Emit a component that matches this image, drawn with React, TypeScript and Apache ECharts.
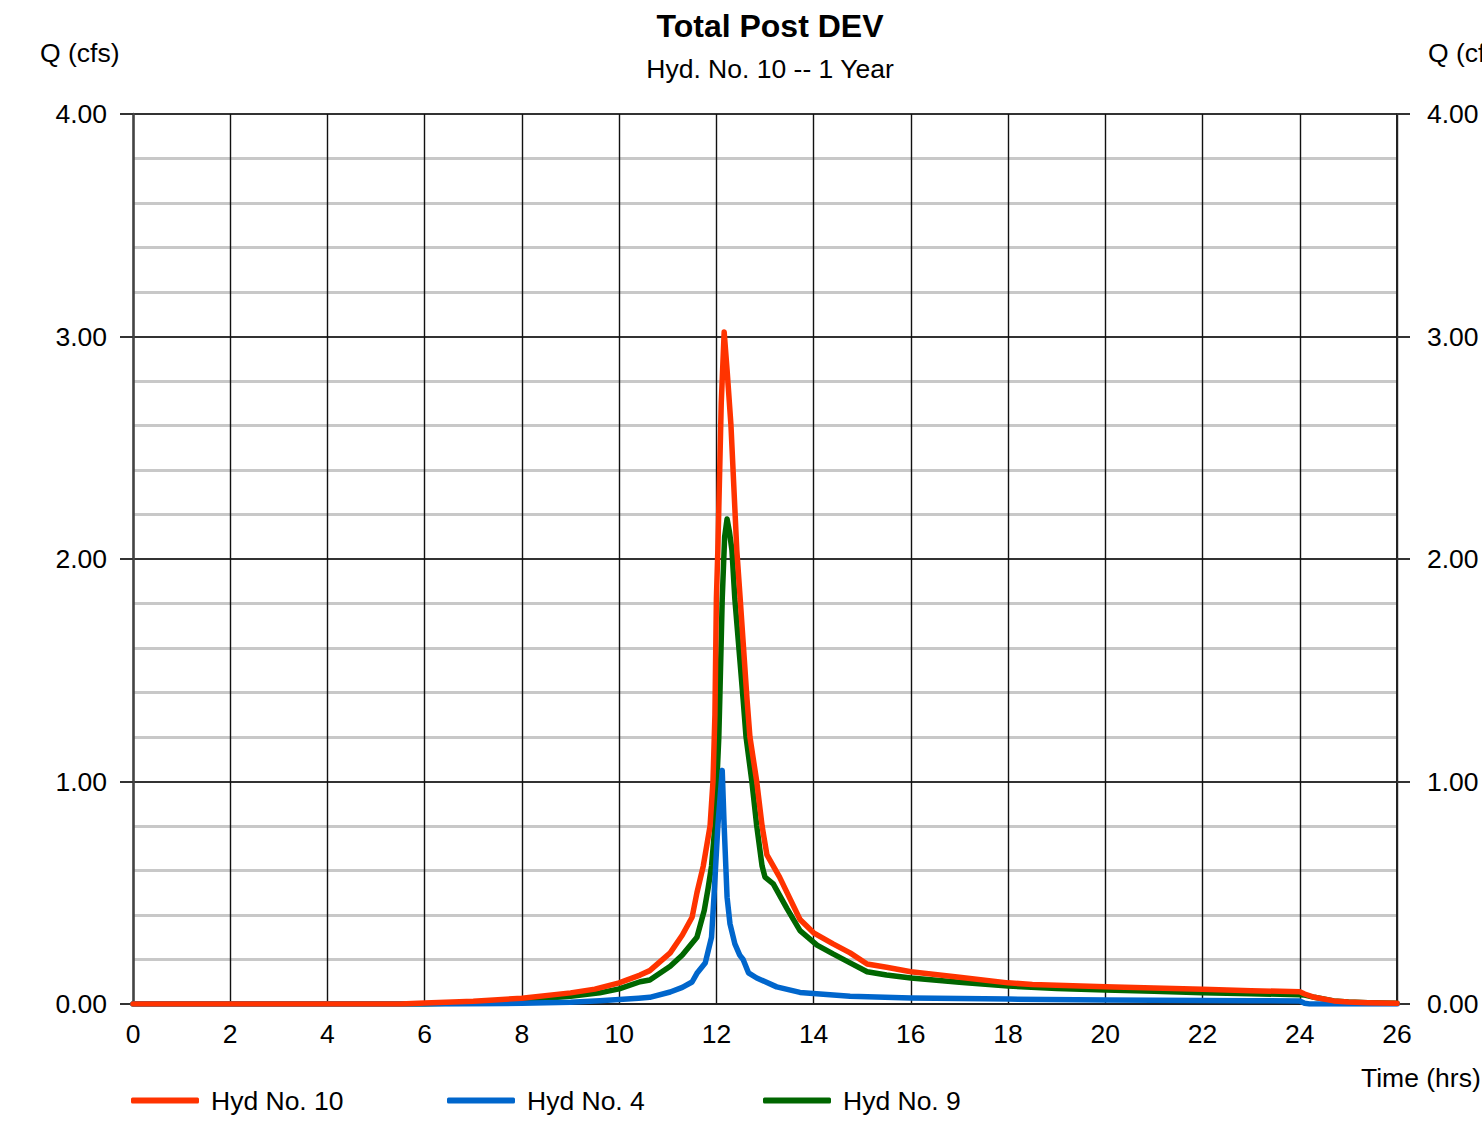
import React, { useEffect, useRef } from "react";
import * as echarts from "echarts";

const chartTitle = "Total Post DEV";
const chartSubtitle = "Hyd. No. 10 -- 1 Year";
const yAxisName = "Q (cfs)";
const xAxisName = "Time (hrs)";

const seriesNames = ["Hyd No. 10", "Hyd No. 4", "Hyd No. 9"];
const seriesColors = ["#ff3300", "#0066cc", "#006600"];

// Hyd No. 10 (total)
const hyd10Time = [0, 5.5, 6, 7, 8, 9, 9.5, 10, 10.43, 10.63, 11.05, 11.3, 11.5, 11.6, 11.73, 11.87, 11.93, 11.97, 12.0, 12.03, 12.1, 12.16, 12.22, 12.3, 12.42, 12.49, 12.63, 12.69, 12.83, 12.94, 13.04, 13.3, 13.72, 14.0, 14.4, 14.75, 15.1, 15.5, 16, 17, 18, 18.5, 19, 20, 21, 22, 23, 24, 24.1, 24.3, 24.7, 25.0, 25.4, 26];
const hyd10Q = [0, 0, 0.005, 0.012, 0.026, 0.05, 0.067, 0.095, 0.13, 0.15, 0.23, 0.31, 0.39, 0.5, 0.62, 0.8, 1.0, 1.3, 1.82, 2.04, 2.7, 3.02, 2.85, 2.6, 2.04, 1.82, 1.37, 1.2, 1.0, 0.8, 0.67, 0.57, 0.38, 0.32, 0.27, 0.23, 0.18, 0.165, 0.145, 0.12, 0.095, 0.088, 0.084, 0.078, 0.072, 0.066, 0.06, 0.055, 0.045, 0.03, 0.014, 0.009, 0.006, 0.003];

// Hyd No. 4
const hyd4Time = [0, 6.5, 7.3, 8, 9, 9.6, 10, 10.4, 10.63, 11.05, 11.3, 11.5, 11.6, 11.77, 11.9, 11.95, 12.03, 12.12, 12.16, 12.22, 12.28, 12.38, 12.48, 12.55, 12.66, 12.83, 13.24, 13.72, 14.75, 16, 18, 20, 22, 23, 24, 24.1, 24.2, 26];
const hyd4Q = [0, 0, 0.001, 0.003, 0.008, 0.015, 0.02, 0.026, 0.03, 0.054, 0.075, 0.099, 0.138, 0.184, 0.3, 0.48, 0.8, 1.05, 0.8, 0.48, 0.36, 0.27, 0.22, 0.2, 0.14, 0.117, 0.077, 0.052, 0.035, 0.027, 0.022, 0.018, 0.016, 0.015, 0.013, 0.003, 0, 0];

// Hyd No. 9
const hyd9Time = [0, 6, 7, 8, 9, 9.6, 10, 10.43, 10.63, 11.05, 11.3, 11.6, 11.75, 11.83, 11.9, 11.97, 12.01, 12.05, 12.07, 12.12, 12.17, 12.22, 12.27, 12.32, 12.38, 12.55, 12.61, 12.73, 12.83, 12.94, 13.0, 13.17, 13.45, 13.72, 14.07, 14.4, 14.75, 15.1, 15.5, 16, 17, 18, 19, 20, 21, 22, 23, 24, 24.1, 24.3, 24.7, 25.0, 25.4, 26];
const hyd9Q = [0, 0, 0.008, 0.018, 0.035, 0.05, 0.068, 0.1, 0.108, 0.17, 0.22, 0.3, 0.42, 0.52, 0.62, 0.8, 1.0, 1.2, 1.37, 1.82, 2.1, 2.18, 2.12, 2.04, 1.82, 1.37, 1.2, 1.0, 0.8, 0.62, 0.57, 0.54, 0.43, 0.33, 0.265, 0.225, 0.185, 0.145, 0.13, 0.117, 0.098, 0.081, 0.07, 0.063, 0.057, 0.051, 0.046, 0.042, 0.04, 0.03, 0.014, 0.009, 0.006, 0.003];

const xMin = 0;
const xMax = 26;
const xInterval = 2;
const yMin = 0;
const yMax = 4;
const yInterval = 1;

const FONT = "'Liberation Sans', Arial, Helvetica, sans-serif";
const FS = 26.5;

function pairs(t: number[], q: number[]) {
  return t.map((x, i) => [x, q[i]]);
}

export default function App() {
  const ref = useRef<HTMLDivElement>(null);

  useEffect(() => {
    if (!ref.current) return;
    const chart = echarts.init(ref.current, null, { renderer: "svg" });

    const yAxisCommon = {
      type: "value",
      min: yMin,
      max: yMax,
      interval: yInterval,
      axisTick: { show: true, length: 13, lineStyle: { color: "#333", width: 2 } },
      minorTick: { show: false, splitNumber: 5 },
    };

    const legendCommon = {
      orient: "horizontal",
      top: 1087,
      padding: 0,
      itemWidth: 68,
      itemHeight: 6,
      icon: "roundRect",
      textStyle: { fontFamily: FONT, fontSize: FS, color: "#000", padding: [0, 0, 0, 7] },
    };

    const option: any = {
      animation: false,
      backgroundColor: "#ffffff",
      title: {
        text: chartTitle,
        subtext: chartSubtitle,
        left: 765,
        top: 5,
        textAlign: "center",
        itemGap: 13,
        textStyle: { fontFamily: FONT, fontSize: 32, fontWeight: "bold", color: "#000" },
        subtextStyle: { fontFamily: FONT, fontSize: FS, color: "#000" },
      },
      grid: { left: 133, right: 85, top: 114, bottom: 117, containLabel: false },
      legend: [
        { ...legendCommon, left: 131, data: [seriesNames[0]] },
        { ...legendCommon, left: 447, data: [seriesNames[1]] },
        { ...legendCommon, left: 763, data: [seriesNames[2]] },
      ],
      xAxis: {
        type: "value",
        min: xMin,
        max: xMax,
        interval: xInterval,
        axisLine: { show: true, lineStyle: { color: "#222", width: 2 } },
        axisTick: { show: false },
        axisLabel: { fontFamily: FONT, fontSize: FS, color: "#000", margin: 16 },
        splitLine: { show: true, lineStyle: { color: "#111", width: 1.4 } },
      },
      yAxis: [
        {
          ...yAxisCommon,
          position: "left",
          axisLine: { show: true, lineStyle: { color: "#444", width: 2.5 } },
          axisLabel: {
            fontFamily: FONT,
            fontSize: FS,
            color: "#000",
            margin: 26,
            formatter: (v: number) => v.toFixed(2),
          },
          splitLine: { show: true, lineStyle: { color: "#333", width: 2 } },
          minorTick: { show: false, splitNumber: 5 },
          minorSplitLine: { show: true, lineStyle: { color: "#c8c8c8", width: 3 } },
        },
        {
          ...yAxisCommon,
          position: "right",
          axisLine: { show: true, lineStyle: { color: "#222", width: 2 } },
          axisLabel: {
            fontFamily: FONT,
            fontSize: FS,
            color: "#000",
            margin: 30,
            formatter: (v: number) => v.toFixed(2),
          },
          splitLine: { show: false },
        },
      ],
      graphic: [
        {
          type: "text",
          left: 40,
          top: 39,
          style: { text: yAxisName, font: `${FS}px ${FONT}`, fill: "#000" },
        },
        {
          type: "text",
          left: 1428,
          top: 39,
          style: { text: yAxisName, font: `${FS}px ${FONT}`, fill: "#000" },
        },
        {
          type: "text",
          left: 1361,
          top: 1064,
          style: { text: xAxisName, font: `${FS}px ${FONT}`, fill: "#000" },
        },
      ],
      series: [
        {
          name: seriesNames[2],
          type: "line",
          symbol: "none",
          data: pairs(hyd9Time, hyd9Q),
          lineStyle: { color: seriesColors[2], width: 5.5, cap: "round", join: "round" },
          itemStyle: { color: seriesColors[2] },
          z: 2,
        },
        {
          name: seriesNames[1],
          type: "line",
          symbol: "none",
          data: pairs(hyd4Time, hyd4Q),
          lineStyle: { color: seriesColors[1], width: 5.5, cap: "round", join: "round" },
          itemStyle: { color: seriesColors[1] },
          z: 3,
        },
        {
          name: seriesNames[0],
          type: "line",
          symbol: "none",
          data: pairs(hyd10Time, hyd10Q),
          lineStyle: { color: seriesColors[0], width: 5.5, cap: "round", join: "round" },
          itemStyle: { color: seriesColors[0] },
          z: 4,
        },
      ],
    };

    chart.setOption(option);
    return () => chart.dispose();
  }, []);

  return (
    <div
      ref={ref}
      style={{ position: "absolute", left: 0, top: 0, width: 1482, height: 1121, overflow: "hidden" }}
    />
  );
}
